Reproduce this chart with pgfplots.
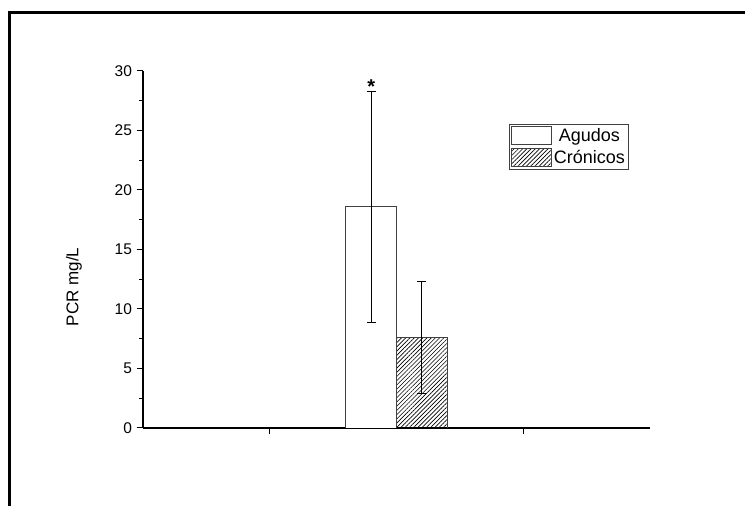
\documentclass[border=0pt]{standalone}
\usepackage{fontspec}
\setmainfont{Liberation Sans}
\usepackage{pgfplots}
\pgfplotsset{compat=1.18}
\usetikzlibrary{patterns.meta}

\begin{document}
\begin{tikzpicture}[x=1pt,y=1pt]
\useasboundingbox (0,0) rectangle (745,506);
% outer frame (top and left only)
\draw[line width=3pt] (9.5,0) -- (9.5,493.5) -- (746,493.5);
\begin{axis}[
  at={(143pt,78pt)}, anchor=south west,
  scale only axis, width=507pt, height=357pt,
  xmin=0.5, xmax=2.5, ymin=0, ymax=30,
  axis x line*=bottom, axis y line*=left,
  axis line style={-, line width=1.2pt},
  xtick={1,2}, xticklabels={},
  ytick={0,5,...,30}, minor y tick num=1,
  tick align=outside,
  major tick length=6.5pt, minor tick length=4pt,
  tick style={black, line width=1pt},
  yticklabel style={font=\fontsize{15.5}{17}\selectfont, xshift=-1pt},
  /pgf/number format/assume math mode=true,
  ylabel={PCR mg/L},
  ylabel style={at={(axis description cs:-0.136,0.395)}, anchor=center,
    font=\fontsize{17}{19}\selectfont},
  legend style={at={(0.722,0.8515)}, anchor=north west,
    draw=black!75, line width=0.8pt, inner xsep=1.5pt, inner ysep=2pt,
    font=\fontsize{18}{20}\selectfont, row sep=3pt,
    column 2/.style={text width=80pt, align=center}},
  legend cell align=center,
]
\addplot[ybar, bar shift=0pt, bar width=0.2, draw=black!75, line width=0.9pt, fill=white,
  error bars/.cd, y dir=both, y explicit,
  error bar style={black, line width=1.1pt}, error mark options={rotate=90, black, mark size=4.5pt, line width=1.1pt},
  /pgfplots/legend image code/.code={\draw[draw=black!75, line width=0.9pt, fill=white] (0pt,-9pt) rectangle (40pt,9pt);}]
  coordinates {(1.4,18.6) +- (0,9.7)};
\addlegendentry{Agudos}
\addplot[ybar, bar shift=0pt, bar width=0.2, draw=black!75, line width=0.9pt,
  pattern={Lines[angle=45, distance=3pt, line width=0.65pt]}, pattern color=black,
  error bars/.cd, y dir=both, y explicit,
  error bar style={black, line width=1.1pt}, error mark options={rotate=90, black, mark size=4.5pt, line width=1.1pt},
  /pgfplots/legend image code/.code={\draw[draw=black!75, line width=0.9pt, pattern={Lines[angle=45, distance=3pt, line width=0.65pt]}, pattern color=black] (0pt,-9pt) rectangle (40pt,9pt);}]
  coordinates {(1.6,7.6) +- (0,4.7)};
\addlegendentry{Crónicos}
\node[anchor=base, font=\fontsize{20}{22}\selectfont\bfseries, yshift=-2pt] at (axis cs:1.4,28.3) {*};
\end{axis}
\end{tikzpicture}
\end{document}
